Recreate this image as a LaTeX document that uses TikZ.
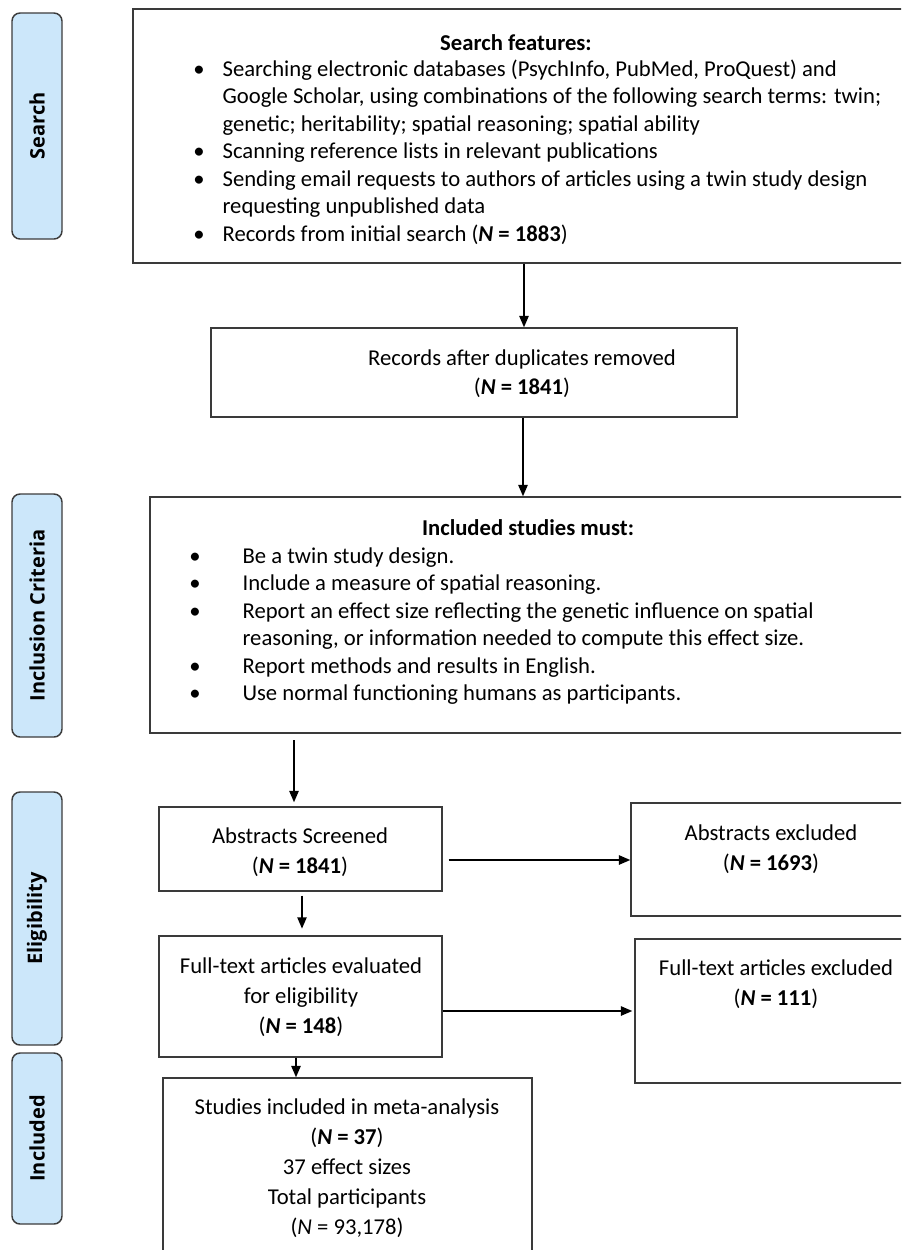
\documentclass[tikz,border=0pt]{standalone}
\usepackage{fontspec}
\setmainfont{Carlito}
\newfontfamily\tabfont{Open Sans}
\usetikzlibrary{arrows.meta,fit}
\definecolor{tabblue}{HTML}{CCE7FA}
\definecolor{tabedge}{HTML}{3C3C3C}
\definecolor{boxedge}{HTML}{3A3A3A}
\newlength\bwa \setlength\bwa{22pt}
\newlength\bwb \setlength\bwb{40pt}
\begin{document}
\begin{tikzpicture}[x=0.75pt,y=-0.75pt,
  box/.style={draw=boxedge, line width=1.1pt, inner sep=0pt},
  tabbox/.style={draw=tabedge, fill=tabblue, line width=1.1pt, rounded corners=6pt, inner sep=0pt},
  tablabel/.style={rotate=90, inner sep=0pt, font=\tabfont\bfseries\fontsize{15}{18}\selectfont},
  arr/.style={-{Triangle[length=8.5pt,width=7pt]}, line width=1.1pt, black},
  ctext/.style={align=center, inner sep=0pt, anchor=north, font=\fontsize{17}{22.5}\selectfont},
  ltext/.style={align=left, inner sep=0pt, anchor=north west, font=\fontsize{17}{20.6}\selectfont},
  ttext/.style={inner sep=0pt, anchor=base, font=\bfseries\fontsize{17}{20.6}\selectfont}]
\path[use as bounding box] (0,0) rectangle (901,1250);
\clip (0,0) rectangle (901,1250);
\fill[white] (0,0) rectangle (901,1250);

% side tabs
\node[tabbox, fit={(12,13) (62,239)}] (tsearch) {};
\node[tablabel] (lsearch) at (tsearch.center) {Search};
\node[tabbox, fit={(12,494) (62,737)}] (tincl) {};
\node[tablabel] (lincl) at (tincl.center) {Inclusion Criteria};
\node[tabbox, fit={(12,792) (62,1045)}] (telig) {};
\node[tablabel] (lelig) at (telig.center) {Eligibility};
\node[tabbox, fit={(12,1053) (62,1224)}] (tinc) {};
\node[tablabel] (linc) at (tinc.center) {Included};

% boxes
\node[box, fit={(133,9) (910,263)}] (search) {};
\node[box, fit={(211,328) (737,417)}] (records) {};
\node[box, fit={(150,497) (910,733)}] (incl) {};
\node[box, fit={(159,807) (442,891)}] (abs) {};
\node[box, fit={(631,803) (911,916)}] (absx) {};
\node[box, fit={(159,936) (442,1057)}] (ft) {};
\node[box, fit={(635,939) (917,1083)}] (ftx) {};
\node[box, fit={(163,1078) (532,1262)}] (studies) {};

% texts
\node[ttext] (stitle) at (516,50) {Search features:};
\node[ltext] (stext) at (193,56.75) {\makebox[\bwa][l]{•}Searching electronic databases (PsychInfo, PubMed, ProQuest) and\strut\\
\hspace*{\bwa}Google Scholar, using combinations of the following search terms: twin;\strut\\
\hspace*{\bwa}genetic; heritability; spatial reasoning; spatial ability\strut\\
\makebox[\bwa][l]{•}Scanning reference lists in relevant publications\strut\\
\makebox[\bwa][l]{•}Sending email requests to authors of articles using a twin study design\strut\\
\hspace*{\bwa}requesting unpublished data\strut\\
\makebox[\bwa][l]{•}Records from initial search (\textbf{\textit{N} = 1883})\strut};

\node[ctext, font=\fontsize{17}{21.75}\selectfont] (rtext) at (522,344.7) {Records after duplicates removed\strut\\(\textbf{\textit{N} = 1841})\strut};

\node[ttext] (ititle) at (528,535) {Included studies must:};
\node[ltext] (itext) at (189,543.75) {\makebox[\bwb][l]{•}Be a twin study design.\strut\\
\makebox[\bwb][l]{•}Include a measure of spatial reasoning.\strut\\
\makebox[\bwb][l]{•}Report an effect size reflecting the genetic influence on spatial\strut\\
\hspace*{\bwb}reasoning, or information needed to compute this effect size.\strut\\
\makebox[\bwb][l]{•}Report methods and results in English.\strut\\
\makebox[\bwb][l]{•}Use normal functioning humans as participants.\strut};

\node[ctext] (atext) at (300,822) {Abstracts Screened\strut\\(\textbf{\textit{N} = 1841})\strut};
\node[ctext] (axtext) at (771,819) {Abstracts excluded\strut\\(\textbf{\textit{N} = 1693})\strut};
\node[ctext] (ftext) at (301,952) {Full-text articles evaluated\strut\\for eligibility\strut\\(\textbf{\textit{N} = 148})\strut};
\node[ctext] (fxtext) at (776,954) {Full-text articles excluded\strut\\(\textbf{\textit{N} = 111})\strut};
\node[ctext] (sttext) at (347,1093) {Studies included in meta-analysis\strut\\(\textbf{\textit{N} = 37})\strut\\37 effect sizes\strut\\Total participants\strut\\(\textit{N} = 93,178)\strut};

% arrows
\coordinate (x1) at (524,0);
\coordinate (x2) at (523,0);
\coordinate (x3) at (294,0);
\coordinate (x4) at (302,0);
\coordinate (x5) at (296,0);
\coordinate (y1) at (0,860);
\coordinate (y2) at (0,1011);
\draw[arr] (search.south -| x1) -- (records.north -| x1);
\draw[arr] (records.south -| x2) -- (incl.north -| x2);
\draw[arr, shorten <=5pt, shorten >=3pt] (incl.south -| x3) -- (abs.north -| x3);
\draw[arr, shorten <=4.5pt] (abs.east |- y1) -- (absx.west |- y1);
\draw[arr, shorten <=3pt, shorten >=5pt] (abs.south -| x4) -- (ft.north -| x4);
\draw[arr, shorten >=1.5pt] (ft.east |- y2) -- (ftx.west |- y2);
\draw[arr] (ft.south -| x5) -- (studies.north -| x5);
\end{tikzpicture}
\end{document}
